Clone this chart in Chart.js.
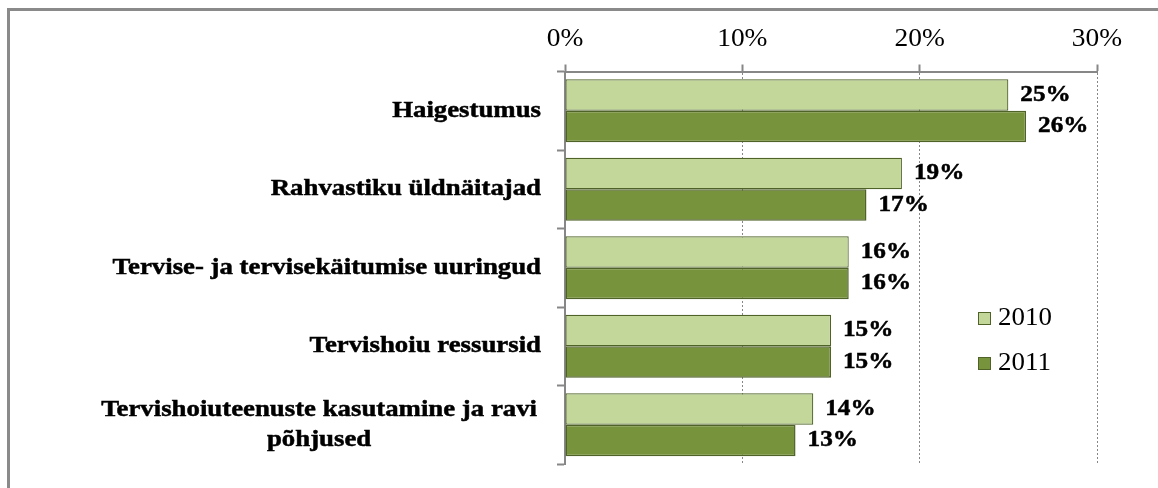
<!DOCTYPE html>
<html>
<head>
<meta charset="utf-8">
<script src="https://cdn.jsdelivr.net/npm/chart.js@4"></script>
<style>
  html, body { margin: 0; padding: 0; background: #ffffff; }
  #wrap { width: 1158px; height: 488px; position: relative; }
  .pre { font-family: "Liberation Serif"; position: absolute; left: -9999px; }
</style>
</head>
<body>
<span class="pre">Aa</span><span class="pre" style="font-weight:bold">Aa</span>
<div id="wrap"><canvas id="c"></canvas></div>
<script>
const categories = [
  "Haigestumus",
  "Rahvastiku üldnäitajad",
  "Tervise- ja tervisekäitumise uuringud",
  "Tervishoiu ressursid",
  ["Tervishoiuteenuste kasutamine ja ravi", "põhjused"]
];
const seriesNames = ["2010", "2011"];
const values2010 = [25, 19, 16, 15, 14];
const values2011 = [26, 17, 16, 15, 13];
const xTickValues = [0, 10, 20, 30];

const FONT = '"Liberation Serif", "Times New Roman", Times, serif';
const GRAY = '#878787';

function stretchedText(ctx, text, x, y, align, font, sx, heavy) {
  ctx.save();
  ctx.font = font;
  ctx.fillStyle = '#000';
  ctx.textBaseline = 'middle';
  const w = ctx.measureText(text).width * sx;
  let left = x;
  if (align === 'right') left = x - w;
  else if (align === 'center') left = x - w / 2;
  ctx.translate(left, y);
  ctx.scale(sx, 1);
  ctx.textAlign = 'left';
  ctx.fillText(text, 0, 0);
  if (heavy) {
    ctx.strokeStyle = '#000';
    ctx.lineWidth = heavy;
    ctx.strokeText(text, 0, 0);
  }
  ctx.restore();
  return w;
}
function textWidth(ctx, text, font, sx) {
  ctx.save(); ctx.font = font;
  const w = ctx.measureText(text).width * sx;
  ctx.restore(); return w;
}

const drawPlugin = {
  id: 'drawPlugin',
  beforeDraw(chart) {
    const ctx = chart.ctx;
    ctx.save();
    ctx.fillStyle = '#8a8a8a';
    ctx.fillRect(7, 8, 1151, 3);
    ctx.fillRect(7, 8, 3, 480);
    ctx.restore();
  },
  afterDraw(chart) {
    const ctx = chart.ctx;
    const xs = chart.scales.x, ys = chart.scales.y;
    const tickFont = '24.5px ' + FONT;
    xs.ticks.forEach(t => {
      const px = xs.getPixelForValue(t.value);
      stretchedText(ctx, t.label, px, 40, 'center', tickFont, 1.12);
    });
    const catFont = 'bold 23.5px ' + FONT;
    const sxCat = 1.14;
    const labelRight = 541;
    chart.data.labels.forEach((lab, i) => {
      const cy = ys.getPixelForValue(i);
      if (Array.isArray(lab)) {
        const lh = 30;
        const maxW = Math.max(...lab.map(l => textWidth(ctx, l, catFont, sxCat)));
        const cx = labelRight - 4 - maxW / 2;
        const y0 = cy - (lab.length - 1) * lh / 2;
        lab.forEach((l, k) => stretchedText(ctx, l, cx, y0 + k * lh, 'center', catFont, sxCat, 0.5));
      } else {
        stretchedText(ctx, lab, labelRight, cy, 'right', catFont, sxCat, 0.5);
      }
    });
    const dlFont = 'bold 22.5px ' + FONT;
    chart.data.datasets.forEach((ds, d) => {
      const meta = chart.getDatasetMeta(d);
      meta.data.forEach((bar, i) => {
        stretchedText(ctx, ds.data[i] + '%', bar.x + 12, bar.y, 'left', dlFont, 1.12, 0.5);
      });
    });
    const legFont = '24.5px ' + FONT;
    const legY = [319, 364];
    chart.data.datasets.forEach((ds, d) => {
      const y = legY[d];
      ctx.save();
      ctx.fillStyle = ds.backgroundColor;
      ctx.fillRect(978, y - 7, 13, 13);
      ctx.strokeStyle = ds.borderColor;
      ctx.lineWidth = 1;
      ctx.strokeRect(978.5, y - 6.5, 12, 12);
      ctx.restore();
      stretchedText(ctx, ds.label, 998, y, 'left', legFont, 1.1);
    });
  }
};

function build() {
  new Chart(document.getElementById('c'), {
    type: 'bar',
    data: {
      labels: categories,
      datasets: [
        { label: seriesNames[0], data: values2010, backgroundColor: '#C4D79B', borderColor: '#4F6228',
          borderWidth: 1.2, borderSkipped: false, categoryPercentage: 0.8, barPercentage: 1.0 },
        { label: seriesNames[1], data: values2011, backgroundColor: '#77933C', borderColor: '#4F6228',
          borderWidth: 1.5, borderSkipped: false, categoryPercentage: 0.8, barPercentage: 1.0 }
      ]
    },
    options: {
      indexAxis: 'y',
      responsive: true,
      maintainAspectRatio: false,
      animation: false,
      events: [],
      layout: { padding: { top: 0, left: 0, right: 61, bottom: 24 } },
      plugins: { legend: { display: false }, tooltip: { enabled: false } },
      scales: {
        x: {
          position: 'top',
          min: 0, max: 30,
          afterBuildTicks(scale) { scale.ticks = xTickValues.map(v => ({ value: v })); },
          afterFit(scale) { scale.height = 71.5; },
          ticks: { display: false, callback: v => v + '%' },
          grid: { color: GRAY, lineWidth: 1, drawTicks: true, tickLength: 7, tickWidth: 2,
                  tickColor: GRAY, tickBorderDash: [] },
          border: { display: true, color: GRAY, width: 2, dash: [2, 2] }
        },
        y: {
          afterFit(scale) { scale.width = 565; },
          ticks: { display: false },
          grid: { drawOnChartArea: false, drawTicks: true, tickLength: 8, tickWidth: 2,
                  tickColor: GRAY, offset: true },
          border: { display: true, color: GRAY, width: 2 }
        }
      }
    },
    plugins: [drawPlugin]
  });
}

Promise.all([
  document.fonts.load('24px "Liberation Serif"'),
  document.fonts.load('bold 24px "Liberation Serif"')
]).then(build, build);
</script>
</body>
</html>
